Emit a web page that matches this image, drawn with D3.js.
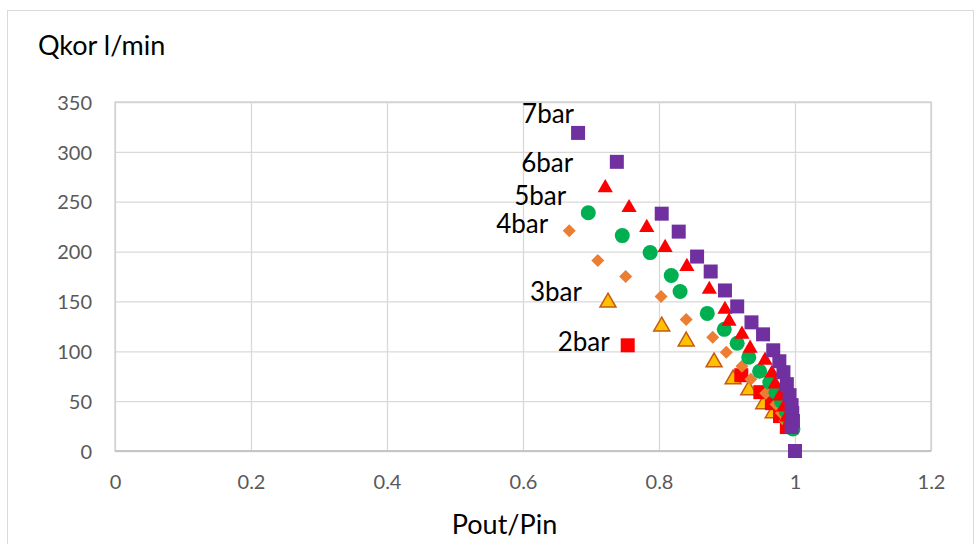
<!DOCTYPE html>
<html>
<head>
<meta charset="utf-8">
<script src="https://cdn.jsdelivr.net/npm/d3@7/dist/d3.min.js"></script>
<style>
  html, body { margin: 0; padding: 0; background: #fff; }
  svg { display: block; }
  text { font-family: Lato, "Open Sans", sans-serif; }
</style>
</head>
<body>
<svg id="chart" width="974" height="544"></svg>
<script>
// Corrected flow Qkor (l/min) versus pressure ratio Pout/Pin, per inlet pressure
const seriesNames = ["3bar", "2bar", "4bar", "5bar", "6bar", "7bar"];

const ratio2bar = [0.754, 0.921, 0.949, 0.966, 0.978, 0.988];
const flow2bar  = [106, 76, 59, 48, 35, 24];

const ratio3bar = [0.725, 0.804, 0.840, 0.881, 0.909, 0.932, 0.954, 0.968];
const flow3bar  = [149, 125, 110, 89, 72, 61, 47, 38];

const ratio4bar = [0.668, 0.710, 0.751, 0.803, 0.840, 0.879, 0.899, 0.922, 0.935, 0.957, 0.972, 0.980, 0.985];
const flow4bar  = [221, 191, 175, 155, 132, 114, 99, 85, 72, 58, 47, 38, 30];

const ratio5bar = [0.696, 0.746, 0.787, 0.818, 0.831, 0.871, 0.896, 0.915, 0.932, 0.948, 0.963, 0.972, 0.980, 0.987, 0.992, 0.997];
const flow5bar  = [239, 216, 199, 176, 160, 138, 122, 108, 94, 80, 69, 59, 50, 40, 31, 22];

const ratio6bar = [0.721, 0.756, 0.782, 0.809, 0.841, 0.874, 0.897, 0.903, 0.922, 0.934, 0.956, 0.966, 0.971, 0.978, 0.984, 0.988, 0.990];
const flow6bar  = [264, 244, 224, 204, 185, 162, 142, 130, 117, 103, 91, 78, 67, 55, 44, 34, 27];

const ratio7bar = [0.681, 0.738, 0.804, 0.829, 0.856, 0.876, 0.897, 0.915, 0.936, 0.953, 0.968, 0.977, 0.983, 0.988, 0.992, 0.995, 0.996, 0.997, 0.995, 1.000];
const flow7bar  = [319, 290, 238, 220, 195, 180, 161, 145, 129, 117, 101, 90, 79, 67, 56, 46, 38, 30, 24, 0];

const xTicks = [0, 0.2, 0.4, 0.6, 0.8, 1, 1.2];
const yTicks = [0, 50, 100, 150, 200, 250, 300, 350];

const yTitle = "Qkor l/min";
const xTitle = "Pout/Pin";

// ---- drawing ----
const svg = d3.select("#chart");

const x = d3.scaleLinear().domain([0, 1.2]).range([115, 931]);
const y = d3.scaleLinear().domain([0, 350]).range([451, 102]);

// outer chart frame
svg.append("rect")
  .attr("x", 7.5).attr("y", 10.5)
  .attr("width", 966).attr("height", 545)
  .attr("fill", "#fff").attr("stroke", "#d9d9d9").attr("stroke-width", 1);

// gridlines
svg.append("g")
  .attr("transform", `translate(0,${y(0)})`)
  .call(d3.axisBottom(x).tickValues(xTicks).tickSize(-(y(0) - y(350))).tickFormat(""))
  .call(g => g.select(".domain").remove())
  .call(g => g.selectAll("line").attr("stroke", "#d9d9d9").attr("stroke-width", 1.3));

svg.append("g")
  .attr("transform", `translate(${x(0)},0)`)
  .call(d3.axisLeft(y).tickValues(yTicks).tickSize(-(x(1.2) - x(0))).tickFormat(""))
  .call(g => g.select(".domain").remove())
  .call(g => g.selectAll("line").attr("stroke", "#d9d9d9").attr("stroke-width", 1.3));

// plot frame
svg.append("rect")
  .attr("x", x(0)).attr("y", y(350))
  .attr("width", x(1.2) - x(0)).attr("height", y(0) - y(350))
  .attr("fill", "none").attr("stroke", "#d0d0d0").attr("stroke-width", 1.3);

// bottom axis line
svg.append("line")
  .attr("x1", x(0)).attr("x2", x(1.2)).attr("y1", y(0)).attr("y2", y(0))
  .attr("stroke", "#bfbfbf").attr("stroke-width", 1.5);

// tick labels
const xAxis = svg.append("g")
  .attr("transform", `translate(0,${y(0)})`)
  .call(d3.axisBottom(x).tickValues(xTicks).tickSize(0).tickPadding(0).tickFormat(d3.format("~g")));
xAxis.select(".domain").remove();
xAxis.selectAll("text")
  .attr("y", 38).attr("dy", null)
  .attr("fill", "#595959").style("font-size", "20px").style("font-family", "Lato, sans-serif");

const yAxis = svg.append("g")
  .attr("transform", `translate(${x(0)},0)`)
  .call(d3.axisLeft(y).tickValues(yTicks).tickSize(0).tickPadding(0).tickFormat(d3.format("~g")));
yAxis.select(".domain").remove();
yAxis.selectAll("text")
  .attr("x", -23).attr("dy", "0.36em")
  .attr("fill", "#595959").style("font-size", "20px").style("font-family", "Lato, sans-serif");

// axis titles
svg.append("text")
  .attr("x", 38).attr("y", 55)
  .attr("fill", "#000").style("font-size", "27px")
  .text(yTitle);

svg.append("text")
  .attr("x", (453 + 556) / 2).attr("y", 534)
  .attr("text-anchor", "middle")
  .attr("fill", "#000").style("font-size", "27px")
  .text(xTitle);

// series
const sym = (type, area) => d3.symbol().type(type).size(area)();
const series = {
  "2bar": { xs: ratio2bar, ys: flow2bar, path: sym(d3.symbolSquare, 196), fill: "#ff0000", stroke: "none" },
  "3bar": { xs: ratio3bar, ys: flow3bar, path: sym(d3.symbolTriangle, 110), fill: "#ffc000", stroke: "#c55a11" },
  "4bar": { xs: ratio4bar, ys: flow4bar, path: "M0,-6.5L6.5,0L0,6.5L-6.5,0Z", fill: "#ed7d31", stroke: "none" },
  "5bar": { xs: ratio5bar, ys: flow5bar, path: sym(d3.symbolCircle, 177), fill: "#00b050", stroke: "none" },
  "6bar": { xs: ratio6bar, ys: flow6bar, path: sym(d3.symbolTriangle, 100), fill: "#ff0000", stroke: "none" },
  "7bar": { xs: ratio7bar, ys: flow7bar, path: sym(d3.symbolSquare, 196), fill: "#7030a0", stroke: "none" }
};

const marks = svg.append("g");
seriesNames.forEach(name => {
  const s = series[name];
  marks.append("g")
    .selectAll("path")
    .data(s.xs.map((v, i) => [v, s.ys[i]]))
    .join("path")
    .attr("d", s.path)
    .attr("transform", d => `translate(${x(d[0])},${y(d[1])})`)
    .attr("fill", s.fill)
    .attr("stroke", s.stroke)
    .attr("stroke-width", s.stroke === "none" ? 0 : 1.5);
});

// series labels placed up-left of each series' first point
const labelNames = ["7bar", "6bar", "5bar", "4bar", "3bar", "2bar"];
const labelShift = {
  "7bar": [-4, -10], "6bar": [-32, -16], "5bar": [-22, -8],
  "4bar": [-21, 2], "3bar": [-26, -1], "2bar": [-18, 6]
};
svg.append("g")
  .selectAll("text")
  .data(labelNames)
  .join("text")
  .attr("x", d => x(series[d].xs[0]) + labelShift[d][0])
  .attr("y", d => y(series[d].ys[0]) + labelShift[d][1])
  .attr("text-anchor", "end")
  .attr("fill", "#000")
  .style("font-size", "26px")
  .text(d => d);
</script>
</body>
</html>
